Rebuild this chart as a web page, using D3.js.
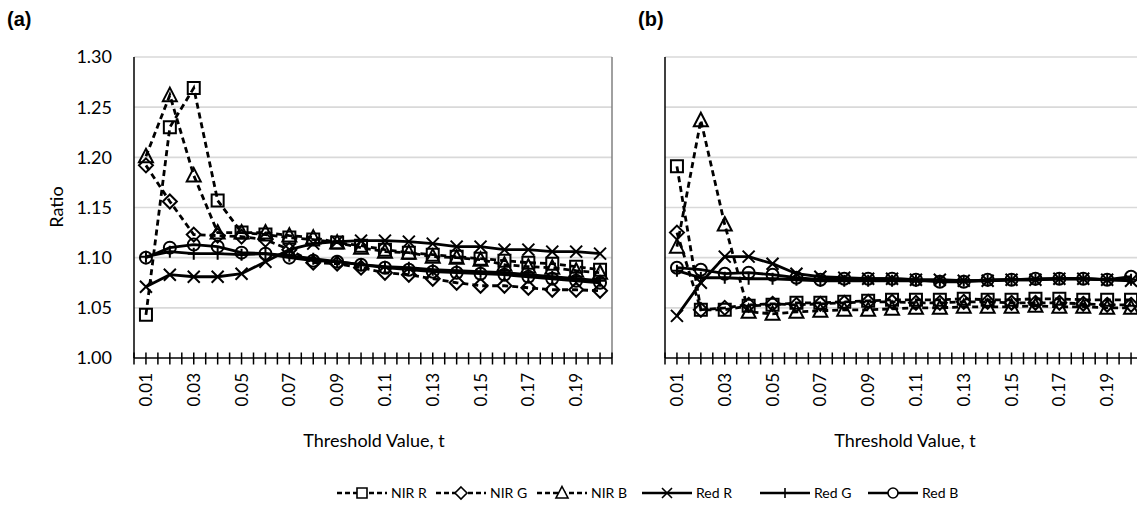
<!DOCTYPE html>
<html>
<head>
<meta charset="utf-8">
<script src="https://cdn.jsdelivr.net/npm/d3@7"></script>
<style>
  html, body { margin: 0; padding: 0; background: #fff; }
  svg { display: block; }
  text { font-family: Lato, "Open Sans", sans-serif; fill: #000; }
</style>
</head>
<body>
<svg id="chart" width="1137" height="526"></svg>
<script>
// Threshold categories and tick labels
const categories = ["0.01","0.02","0.03","0.04","0.05","0.06","0.07","0.08","0.09","0.10",
                    "0.11","0.12","0.13","0.14","0.15","0.16","0.17","0.18","0.19","0.20"];
const xTickLabels = ["0.01","0.03","0.05","0.07","0.09","0.11","0.13","0.15","0.17","0.19"];
const yTickValues = [1.00, 1.05, 1.10, 1.15, 1.20, 1.25, 1.30];
const seriesNames = ["NIR R", "NIR G", "NIR B", "Red R", "Red G", "Red B"];

// Panel (a) ratios
const aNirR = [1.043, 1.230, 1.269, 1.157, 1.125, 1.123, 1.120, 1.118, 1.115, 1.112,
               1.108, 1.105, 1.103, 1.101, 1.099, 1.097, 1.095, 1.094, 1.091, 1.088];
const aNirG = [1.192, 1.156, 1.123, 1.122, 1.121, 1.118, 1.108, 1.095, 1.094, 1.090,
               1.085, 1.083, 1.079, 1.075, 1.072, 1.072, 1.070, 1.068, 1.068, 1.067];
const aNirB = [1.201, 1.262, 1.182, 1.125, 1.125, 1.125, 1.122, 1.120, 1.115, 1.110,
               1.106, 1.105, 1.101, 1.100, 1.098, 1.093, 1.091, 1.090, 1.087, 1.085];
const aRedR = [1.071, 1.083, 1.081, 1.081, 1.084, 1.096, 1.108, 1.114, 1.116, 1.117,
               1.117, 1.116, 1.114, 1.111, 1.111, 1.108, 1.108, 1.106, 1.106, 1.104];
const aRedG = [1.101, 1.106, 1.104, 1.104, 1.103, 1.104, 1.102, 1.099, 1.096, 1.093,
               1.091, 1.090, 1.088, 1.087, 1.086, 1.085, 1.083, 1.081, 1.079, 1.077];
const aRedB = [1.100, 1.110, 1.113, 1.111, 1.105, 1.104, 1.100, 1.097, 1.096, 1.093,
               1.090, 1.088, 1.086, 1.085, 1.084, 1.083, 1.081, 1.079, 1.077, 1.075];

// Panel (b) ratios
const bNirR = [1.191, 1.048, 1.048, 1.052, 1.053, 1.055, 1.055, 1.056, 1.057, 1.058,
               1.058, 1.058, 1.059, 1.058, 1.058, 1.059, 1.059, 1.058, 1.058, 1.058];
const bNirG = [1.125, 1.048, 1.050, 1.053, 1.054, 1.053, 1.054, 1.055, 1.056, 1.056,
               1.055, 1.055, 1.056, 1.056, 1.055, 1.055, 1.055, 1.054, 1.053, 1.053];
const bNirB = [1.111, 1.237, 1.133, 1.046, 1.044, 1.046, 1.047, 1.048, 1.048, 1.049,
               1.050, 1.050, 1.051, 1.051, 1.051, 1.052, 1.051, 1.051, 1.050, 1.050];
const bRedR = [1.042, 1.075, 1.101, 1.101, 1.094, 1.084, 1.081, 1.080, 1.079, 1.079,
               1.078, 1.078, 1.077, 1.077, 1.078, 1.078, 1.079, 1.079, 1.078, 1.077];
const bRedG = [1.087, 1.080, 1.080, 1.079, 1.079, 1.078, 1.077, 1.077, 1.077, 1.077,
               1.077, 1.077, 1.077, 1.077, 1.078, 1.078, 1.079, 1.079, 1.078, 1.078];
const bRedB = [1.090, 1.088, 1.084, 1.085, 1.083, 1.080, 1.078, 1.079, 1.079, 1.079,
               1.078, 1.076, 1.076, 1.078, 1.078, 1.079, 1.079, 1.079, 1.078, 1.081];

const svg = d3.select("#chart");
const plotW = 478, plotH = 301;

const x = d3.scaleBand().domain(categories).range([0, plotW]).padding(0);
const y = d3.scaleLinear().domain([1.0, 1.3]).range([plotH, 0]);
const cx = c => x(c) + x.bandwidth() / 2;

const styles = {
  "NIR R": { dash: "6,4", marker: "square" },
  "NIR G": { dash: "6,4", marker: "diamond" },
  "NIR B": { dash: "6,4", marker: "triangle" },
  "Red R": { dash: null, marker: "cross" },
  "Red G": { dash: null, marker: "plus" },
  "Red B": { dash: null, marker: "circle" }
};

// Marker path drawn around (0,0)
function markerPath(kind, s) {
  const h = s / 2;
  switch (kind) {
    case "square": return `M${-h},${-h}H${h}V${h}H${-h}Z`;
    case "diamond": return `M0,${-h - 1}L${h + 1},0L0,${h + 1}L${-h - 1},0Z`;
    case "triangle": return `M0,${-h - 1.5}L${h + 1},${h}L${-h - 1},${h}Z`;
    case "cross": return `M${-h},${-h}L${h},${h}M${-h},${h}L${h},${-h}`;
    case "plus": return `M0,${-h}V${h}M${-h},0H${h}`;
    case "circle": return `M${h},0A${h},${h} 0 1,1 ${-h},0A${h},${h} 0 1,1 ${h},0Z`;
  }
}

function drawPanel(ox, oy, data, showYLabels) {
  const g = svg.append("g").attr("transform", `translate(${ox},${oy})`);

  // horizontal gridlines
  g.append("g").selectAll("line")
    .data(yTickValues.filter(v => v > 1.0))
    .join("line")
    .attr("x1", 0).attr("x2", plotW)
    .attr("y1", d => y(d)).attr("y2", d => y(d))
    .attr("stroke", "#d9d9d9").attr("stroke-width", 1.6);

  // right border of the plot area
  g.append("line")
    .attr("x1", plotW).attr("x2", plotW)
    .attr("y1", y(1.3)).attr("y2", y(1.0))
    .attr("stroke", "#808080").attr("stroke-width", 1.5);

  // left axis line
  g.append("line")
    .attr("x1", 0).attr("x2", 0)
    .attr("y1", y(1.3)).attr("y2", y(1.0))
    .attr("stroke", "#000").attr("stroke-width", 1.5);

  if (showYLabels) {
    g.append("g").selectAll("text")
      .data(yTickValues)
      .join("text")
      .attr("x", -22).attr("y", d => y(d))
      .attr("dy", "0.36em")
      .attr("text-anchor", "end")
      .attr("font-size", 18)
      .text(d => d.toFixed(2));
  }

  // bottom axis with crossing ticks at band edges and centres
  g.append("line")
    .attr("x1", 0).attr("x2", plotW)
    .attr("y1", y(1.0)).attr("y2", y(1.0))
    .attr("stroke", "#000").attr("stroke-width", 1.5);
  const tickXs = [];
  categories.forEach(c => { tickXs.push(x(c)); tickXs.push(cx(c)); });
  tickXs.push(plotW);
  g.append("g").selectAll("line")
    .data(tickXs)
    .join("line")
    .attr("x1", d => d).attr("x2", d => d)
    .attr("y1", y(1.0) - 5.5).attr("y2", y(1.0) + 6.5)
    .attr("stroke", "#000").attr("stroke-width", 1.5);

  g.append("g").selectAll("text")
    .data(xTickLabels)
    .join("text")
    .attr("transform", d => `translate(${cx(d) + 6},${y(1.0) + 15}) rotate(-90)`)
    .attr("text-anchor", "end")
    .attr("font-size", 17)
    .text(d => d);

  g.append("text")
    .attr("x", plotW / 2 + 1).attr("y", y(1.0) + 89)
    .attr("text-anchor", "middle")
    .attr("font-size", 18)
    .text("Threshold Value, t");

  const line = d3.line().x((d, i) => cx(categories[i])).y(d => y(d));

  seriesNames.forEach((name, k) => {
    const st = styles[name];
    const vals = data[k];
    g.append("path")
      .datum(vals)
      .attr("d", line)
      .attr("fill", "none")
      .attr("stroke", "#000")
      .attr("stroke-width", 2.8)
      .attr("stroke-dasharray", st.dash);
    g.append("g").selectAll("path")
      .data(vals)
      .join("path")
      .attr("transform", (d, i) => `translate(${cx(categories[i])},${y(d)})`)
      .attr("d", markerPath(st.marker, 12))
      .attr("fill", "none")
      .attr("stroke", "#000")
      .attr("stroke-width", 2);
  });
  return g;
}

drawPanel(134, 57, [aNirR, aNirG, aNirB, aRedR, aRedG, aRedB], true);
drawPanel(665, 57, [bNirR, bNirG, bNirB, bRedR, bRedG, bRedB], false);

// panel letters
svg.append("text").attr("x", 7).attr("y", 26)
  .style("font-family", "'Liberation Sans', Arial, sans-serif")
  .attr("font-weight", "bold").attr("font-size", 20).text("(a)");
svg.append("text").attr("x", 638).attr("y", 26)
  .style("font-family", "'Liberation Sans', Arial, sans-serif")
  .attr("font-weight", "bold").attr("font-size", 20).text("(b)");

// y axis title
svg.append("text")
  .attr("transform", "translate(63,207) rotate(-90)")
  .attr("text-anchor", "middle")
  .attr("font-size", 18)
  .text("Ratio");

// legend
const legendStarts = [337, 436, 537, 642, 760, 868];
const legendY = 493;
seriesNames.forEach((name, k) => {
  const st = styles[name];
  const lx = legendStarts[k];
  const lg = svg.append("g").attr("transform", `translate(${lx},${legendY})`);
  lg.append("line")
    .attr("x1", 0).attr("x2", 50).attr("y1", 0).attr("y2", 0)
    .attr("stroke", "#000").attr("stroke-width", 2.5)
    .attr("stroke-dasharray", st.dash ? "5,3" : null);
  lg.append("path")
    .attr("transform", "translate(25,0)")
    .attr("d", markerPath(st.marker, 10))
    .attr("fill", "#fff")
    .attr("stroke", "#000").attr("stroke-width", 1.6);
  lg.append("text")
    .attr("x", 54).attr("y", 0).attr("dy", "0.35em")
    .attr("font-size", 14)
    .text(name);
});
</script>
</body>
</html>
